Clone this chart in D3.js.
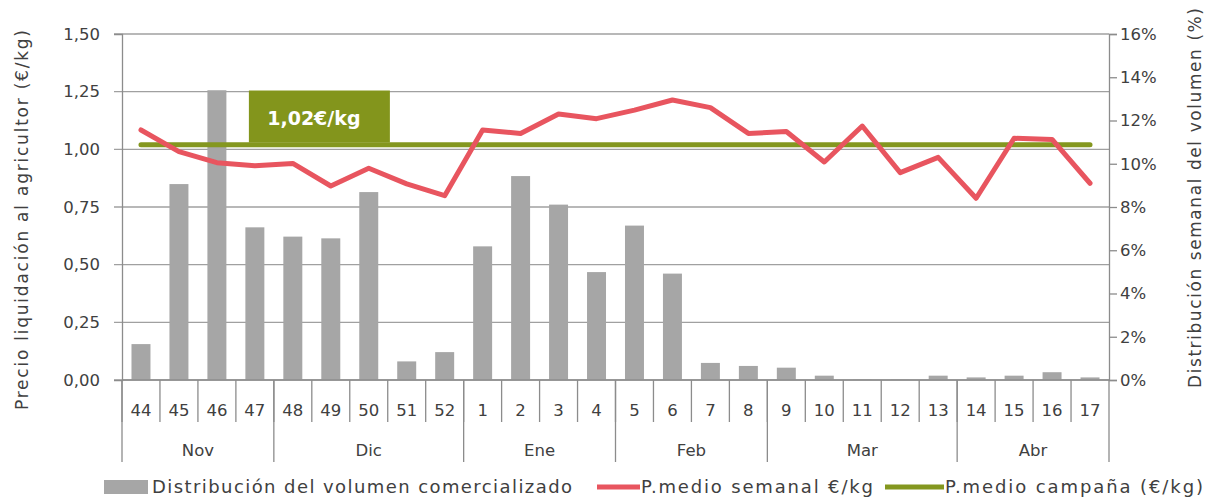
<!DOCTYPE html>
<html lang="es">
<head>
<meta charset="UTF-8">
<title>Precio liquidación semanal</title>
<script src="https://d3js.org/d3.v7.min.js"></script>
<style>
  body { margin: 0; background: #fff; }
  svg text { font-family: "Century Gothic", "DejaVu Sans", sans-serif; fill: #404040; }
</style>
</head>
<body>
<div id="chart"></div>
<script>
// semanas de campaña y meses
const weeks = ["44","45","46","47","48","49","50","51","52","1","2","3","4","5","6","7","8","9","10","11","12","13","14","15","16","17"];
const months = ["Nov","Dic","Ene","Feb","Mar","Abr"];
const monthWeeks = [4, 5, 4, 4, 5, 4]; // semanas por mes

// distribucion del volumen (%), eje derecho
const volume = [1.66, 9.06, 13.4, 7.06, 6.63, 6.55, 8.69, 0.86, 1.29, 6.18, 9.43, 8.11, 4.99,
                7.14, 4.92, 0.79, 0.65, 0.57, 0.2, 0.02, 0.02, 0.2, 0.12, 0.2, 0.36, 0.12];
// precio medio semanal (€/kg), eje izquierdo
const price = [1.084, 0.99, 0.942, 0.929, 0.939, 0.841, 0.918, 0.85, 0.799, 1.084, 1.069, 1.153, 1.133,
               1.17, 1.214, 1.181, 1.069, 1.077, 0.945, 1.101, 0.899, 0.965, 0.788, 1.048, 1.043, 0.853];
const campaignPrice = 1.02;

const leftTicks = [0, 0.25, 0.5, 0.75, 1, 1.25, 1.5];
const rightTicks = [0, 2, 4, 6, 8, 10, 12, 14, 16];

const W = 1208, H = 498;
const m = { top: 34, right: 99, bottom: 118, left: 122 };
const iw = W - m.left - m.right, ih = H - m.top - m.bottom;

const grey = "#a6a6a6", red = "#e8555f", green = "#84971f", axisCol = "#8c8c8c";
const fmt = d3.format(".2f");

const svg = d3.select("#chart").append("svg").attr("width", W).attr("height", H);
const g = svg.append("g").attr("transform", `translate(${m.left},${m.top})`);

const x = d3.scaleBand().domain(weeks).range([0, iw]).paddingInner(0.5).paddingOuter(0.25);
const xb = d3.scaleBand().domain(weeks).range([0, iw]);
const yL = d3.scaleLinear().domain([0, 1.5]).range([ih, 0]);
const yR = d3.scaleLinear().domain([0, 16]).range([ih, 0]);

// rejilla
g.append("g").selectAll("line").data(leftTicks).join("line")
  .attr("x1", -8).attr("x2", iw)
  .attr("y1", d => yL(d)).attr("y2", d => yL(d))
  .attr("stroke", "#a0a0a0").attr("stroke-width", 1.3);

// barras
g.append("g").selectAll("rect").data(volume).join("rect")
  .attr("x", (d, i) => x(weeks[i]))
  .attr("width", x.bandwidth())
  .attr("y", d => yR(d))
  .attr("height", d => ih - yR(d))
  .attr("fill", grey);

// eje izquierdo
const axL = g.append("g").call(d3.axisLeft(yL).tickValues(leftTicks).tickSize(8)
  .tickFormat(d => fmt(d).replace(".", ",")));
axL.select(".domain").attr("stroke", axisCol).attr("stroke-width", 1.3);
axL.selectAll(".tick line").attr("stroke", "none");
axL.selectAll("text").attr("font-size", 16.5).attr("x", -22);

// eje derecho
const axR = g.append("g").attr("transform", `translate(${iw},0)`)
  .call(d3.axisRight(yR).tickValues(rightTicks).tickSize(8).tickFormat(d => d + "%"));
axR.select(".domain").attr("stroke", axisCol).attr("stroke-width", 1.3);
axR.selectAll(".tick line").attr("stroke", axisCol).attr("stroke-width", 1.3);
axR.selectAll("text").attr("font-size", 16.5).attr("x", 11);

// eje x de semanas y meses
const xg = g.append("g").attr("transform", `translate(0,${ih})`);
xg.append("line").attr("x1", 0).attr("x2", iw).attr("stroke", axisCol).attr("stroke-width", 1.3);
xg.selectAll(".wk").data(weeks).join("line").attr("class", "wk")
  .attr("x1", d => xb(d)).attr("x2", d => xb(d)).attr("y1", 0).attr("y2", 42)
  .attr("stroke", axisCol).attr("stroke-width", 1.3);
xg.selectAll(".wkl").data(weeks).join("text").attr("class", "wkl")
  .attr("x", d => xb(d) + xb.bandwidth() / 2).attr("y", 36)
  .attr("text-anchor", "middle").attr("font-size", 16.5).text(d => d);

const mStart = d3.cumsum([0, ...monthWeeks]);
const edges = Array.from(mStart, k => k < weeks.length ? xb(weeks[k]) : iw);
xg.selectAll(".mk").data(edges).join("line").attr("class", "mk")
  .attr("x1", d => d).attr("x2", d => d).attr("y1", 0).attr("y2", 82)
  .attr("stroke", axisCol).attr("stroke-width", 1.3);
xg.selectAll(".ml").data(months).join("text").attr("class", "ml")
  .attr("x", (d, i) => (edges[i] + edges[i + 1]) / 2).attr("y", 76)
  .attr("text-anchor", "middle").attr("font-size", 16.5).text(d => d);

// precio medio campaña
const cx = d => xb(d) + xb.bandwidth() / 2;
g.append("line")
  .attr("x1", cx(weeks[0])).attr("x2", cx(weeks[weeks.length - 1]))
  .attr("y1", yL(campaignPrice)).attr("y2", yL(campaignPrice))
  .attr("stroke", green).attr("stroke-width", 5).attr("stroke-linecap", "round");

// precio medio semanal
g.append("path").datum(price)
  .attr("d", d3.line().x((d, i) => cx(weeks[i])).y(d => yL(d)))
  .attr("fill", "none").attr("stroke", red).attr("stroke-width", 5)
  .attr("stroke-linejoin", "round").attr("stroke-linecap", "round");

// etiqueta del precio campaña
const lab = g.append("g").attr("transform", `translate(${xb(weeks[3]) + 13},${yL(1.255)})`);
lab.append("rect").attr("width", 141).attr("height", 52).attr("fill", "#83951c");
lab.append("text").attr("x", 65).attr("y", 34).attr("text-anchor", "middle")
  .attr("font-size", 19).attr("font-weight", "bold").style("fill", "#fff").text("1,02€/kg");

// titulos de ejes (estirados al ancho del original)
svg.append("text").attr("transform", "translate(28,410) rotate(-90)")
  .attr("font-size", 17).attr("textLength", 380).attr("lengthAdjust", "spacing")
  .text("Precio liquidación al agricultor (€/kg)");
svg.append("text").attr("transform", "translate(1201,388) rotate(-90)")
  .attr("font-size", 17).attr("textLength", 380).attr("lengthAdjust", "spacing")
  .text("Distribución semanal del volumen (%)");

// leyenda
const leg = svg.append("g").attr("transform", "translate(0,487)");
leg.append("rect").attr("x", 104).attr("y", -7).attr("width", 44).attr("height", 14).attr("fill", grey);
leg.append("text").attr("x", 152).attr("y", 6).attr("font-size", 18)
  .attr("textLength", 420).attr("lengthAdjust", "spacing").text("Distribución del volumen comercializado");
leg.append("line").attr("x1", 597).attr("x2", 640).attr("stroke", red).attr("stroke-width", 5);
leg.append("text").attr("x", 641).attr("y", 6).attr("font-size", 18)
  .attr("textLength", 232).attr("lengthAdjust", "spacing").text("P.medio semanal €/kg");
leg.append("line").attr("x1", 885).attr("x2", 944).attr("stroke", green).attr("stroke-width", 5);
leg.append("text").attr("x", 945).attr("y", 6).attr("font-size", 18)
  .attr("textLength", 258).attr("lengthAdjust", "spacing").text("P.medio campaña (€/kg)");
</script>
</body>
</html>
